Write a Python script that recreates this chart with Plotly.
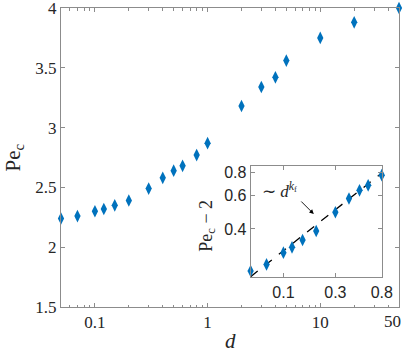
import numpy as np
import plotly.graph_objects as go

# ── data ────────────────────────────────────────────────────────────────────
d_vals = [0.05, 0.07, 0.1, 0.12, 0.15, 0.2, 0.3, 0.4, 0.5, 0.6, 0.8,
          1, 2, 3, 4, 5, 10, 20, 50]
pe_c = [2.24, 2.26, 2.30, 2.32, 2.35, 2.39, 2.49, 2.58, 2.64, 2.68, 2.77,
        2.87, 3.18, 3.34, 3.42, 3.56, 3.75, 3.88, 4.00]

# inset: small-d part, Pe_c - 2
inset_d = [d for d in d_vals if d <= 0.8]
inset_pe = [p - 2 for d, p in zip(d_vals, pe_c) if d <= 0.8]

# power-law fit line (end points)
fit_d = [0.05, 0.8]
fit_y = [0.224, 0.79]

main_xticks = [0.1, 1, 10, 50]
main_xlabels = ['0.1', '1', '10', '']   # '50' is placed by hand, kept inside
main_yticks = [1.5, 2, 2.5, 3, 3.5, 4]
main_ylabels = ['1.5', '2', '2.5', '3', '3.5', '4']
inset_xticks = [0.1, 0.3, 0.8]
inset_yticks = [0.4, 0.6, 0.8]

BLUE = '#0072BD'
AXC = '#8c8c8c'
TXT = '#262626'
SERIF = 'Liberation Serif, Times New Roman, serif'
SANS = 'Liberation Sans, Arial, sans-serif'
EPS = 1e-6   # tiny pad so edge points are not hidden as "out of range"

minor_x = [v * m for v in (0.01, 0.1, 1, 10) for m in range(2, 10)
           if 0.05 <= v * m <= 50]

fig = go.Figure()

fig.add_trace(go.Scatter(
    x=d_vals, y=pe_c, mode='markers', cliponaxis=False,
    marker=dict(symbol='diamond-tall', size=9, color=BLUE),
    showlegend=False
))

fig.add_trace(go.Scatter(
    x=fit_d, y=fit_y, mode='lines', xaxis='x2', yaxis='y2',
    line=dict(color='black', width=1.3, dash='dash'),
    showlegend=False
))
fig.add_trace(go.Scatter(
    x=inset_d, y=inset_pe, mode='markers', xaxis='x2', yaxis='y2',
    cliponaxis=False,
    marker=dict(symbol='diamond-tall', size=9, color=BLUE),
    showlegend=False
))

axis_common = dict(showline=True, linecolor=AXC, linewidth=1, mirror='ticks',
                   ticks='inside', ticklen=4, tickcolor=AXC, showgrid=False,
                   zeroline=False, automargin=False, ticklabeloverflow='allow')

fig.update_layout(
    width=409, height=350,
    margin=dict(l=61, r=10, t=8, b=43, autoexpand=False),
    paper_bgcolor='white', plot_bgcolor='white',
    xaxis=dict(type='log',
               range=[np.log10(0.05) - EPS, np.log10(50) + EPS],
               tickvals=main_xticks, ticktext=main_xlabels,
               tickfont=dict(family=SERIF, size=17, color=TXT),
               minor=dict(tickvals=minor_x, ticks='inside', ticklen=2.5,
                          tickcolor=AXC),
               **axis_common),
    yaxis=dict(range=[1.5, 4 + EPS], tickvals=main_yticks,
               ticktext=main_ylabels,
               tickfont=dict(family=SERIF, size=17, color=TXT),
               **axis_common),
    xaxis2=dict(type='log', domain=[0.561, 0.949], anchor='y2',
                range=[np.log10(0.05) - EPS, np.log10(0.8) + EPS],
                tickvals=inset_xticks, ticktext=['0.1', '0.3', '0.8'],
                tickfont=dict(family=SANS, size=16, color=TXT),
                **axis_common),
    yaxis2=dict(type='log', domain=[0.099, 0.472], anchor='x2',
                range=[np.log10(0.222), np.log10(0.862)],
                tickvals=inset_yticks, ticktext=['0.4', '0.6', '0.8'],
                tickfont=dict(family=SANS, size=16, color=TXT),
                **axis_common),
)

# white backdrop for the inset
fig.add_shape(type='rect', xref='x2 domain', yref='y2 domain',
              x0=0, x1=1, y0=0, y1=1, fillcolor='white',
              line=dict(width=0), layer='below')

# last main x label, nudged left so it stays inside the figure
fig.add_annotation(
    x=np.log10(50), y=0, xref='x', yref='paper', yanchor='top',
    text='50', showarrow=False, xshift=-7, yshift=-3,
    font=dict(family=SERIF, size=17, color=TXT)
)

# axis titles
fig.add_annotation(
    x=0.5, y=0, xref='paper', yref='paper', yanchor='middle',
    text='<i>d</i>', showarrow=False, yshift=-34,
    font=dict(family=SERIF, size=21, color=TXT)
)
fig.add_annotation(
    x=0, y=0.5, xref='paper', yref='paper', xanchor='center',
    yanchor='middle', textangle=-90, xshift=-48,
    text='Pe<sub>c</sub>', showarrow=False,
    font=dict(family=SERIF, size=21, color=TXT)
)
fig.add_annotation(
    x=0, y=0.46, xref='x2 domain', yref='y2 domain', xanchor='center',
    yanchor='middle', textangle=-90, xshift=-44,
    text='Pe<sub>c</sub> − 2', showarrow=False,
    font=dict(family=SERIF, size=18, color=TXT)
)

fig.add_annotation(
    x=np.log10(0.093), y=np.log10(0.639), xref='x2', yref='y2',
    text='∼ <i>d</i><sup><i>k</i><sub>f</sub></sup>', showarrow=False,
    font=dict(family=SERIF, size=17, color=TXT)
)
fig.add_annotation(
    x=np.log10(0.19), y=np.log10(0.48), xref='x2', yref='y2',
    text='', showarrow=True, ax=-14, ay=-14,
    arrowhead=2, arrowsize=1, arrowwidth=0.9, arrowcolor='black'
)

# page body has a default 8px margin; drop it so the figure sits at (0, 0)
fig.write_html('out.html', config={'displayModeBar': False},
               post_script="document.body.style.margin='0';")
